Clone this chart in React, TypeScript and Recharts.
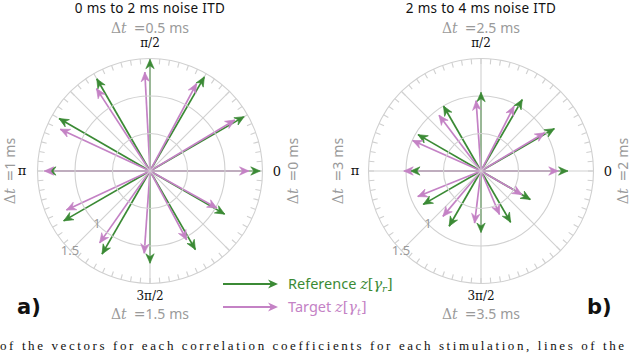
import { ComposedChart, Line, XAxis, YAxis } from 'recharts'

const GREEN = '#3b8a35'
const PINK = '#c482c5'
const GRID = '#d0d0d0'
const LABEL = '#9a9a9a'
const SERIF = "'DejaVu Serif', 'Liberation Serif', serif"
const SANS = "'Noto Sans', 'Open Sans', sans-serif"

// panel a) 0 ms to 2 ms noise ITD
const refAngleA = [0, 30, 60, 90, 120, 150, 180, 210, 240, 270, 300, 330]
const refMagA = [1.47, 1.45, 1.45, 1.49, 1.42, 1.4, 1.38, 1.33, 1.28, 1.23, 1.21, 1.15]
const tgtAngleA = [0, 31, 62, 93, 123, 155, 180, 205, 235, 266, 298, 331]
const tgtMagA = [1.32, 1.32, 1.32, 1.32, 1.31, 1.32, 1.41, 1.23, 1.17, 1.1, 1.04, 1.02]

// panel b) 2 ms to 4 ms noise ITD
const refAngleB = [0, 30, 60, 90, 120, 150, 180, 210, 240, 270, 300, 330]
const refMagB = [1.16, 1.13, 1.1, 1.05, 1.0, 0.97, 0.94, 0.89, 0.85, 0.82, 0.79, 0.76]
const tgtAngleB = [0, 31, 63, 94, 127, 156, 180, 202, 230, 263, 293, 330]
const tgtMagB = [1.03, 0.99, 0.97, 0.94, 0.93, 1.0, 1.03, 0.91, 0.79, 0.7, 0.63, 0.63]

const ringRadii = [0.5, 1, 1.5]
const spokeAngles = [0, 45, 90, 135]
const tickStep = 5
const DOMAIN = 1.6

const rad = (d: number) => (d * Math.PI) / 180

const ringPts = [{ x: 0, y: 0 }, ...ringRadii.map((r) => ({ x: r, y: 0 }))]

function gridDot(p: any) {
  const { index, cx, points } = p
  if (index === 0 || !points) return <g key={`ring-${index}`} />
  const c = points[0]
  const r = cx - c.x
  const outer = index === points.length - 1
  const ticks = outer ? Array.from({ length: 360 / tickStep }, (_, i) => i * tickStep) : []
  return (
    <g key={`ring-${index}`}>
      <circle cx={c.x} cy={c.y} r={r} fill="none" stroke={GRID} strokeWidth={1.1} />
      {outer &&
        spokeAngles.map((a) => (
          <line
            key={`s${a}`}
            x1={c.x - r * Math.cos(rad(a))}
            y1={c.y + r * Math.sin(rad(a))}
            x2={c.x + r * Math.cos(rad(a))}
            y2={c.y - r * Math.sin(rad(a))}
            stroke={GRID}
            strokeWidth={1.1}
          />
        ))}
      {ticks.map((a) => (
        <line
          key={`t${a}`}
          x1={c.x + r * Math.cos(rad(a))}
          y1={c.y - r * Math.sin(rad(a))}
          x2={c.x + (r - 5.5) * Math.cos(rad(a))}
          y2={c.y - (r - 5.5) * Math.sin(rad(a))}
          stroke={GRID}
          strokeWidth={1.1}
        />
      ))}
    </g>
  )
}

const arrowDot = (color: string) => (p: any) => {
  if (p.index !== 1) return <g key={`h${p.index}`} />
  const c = p.points ? p.points[0] : null
  const deg = c ? (Math.atan2(p.cy - c.y, p.cx - c.x) * 180) / Math.PI : -p.payload.a
  return (
    <polygon
      key="head"
      points="0,0 -9.5,-4.2 -6.5,0 -9.5,4.2"
      fill={color}
      stroke={color}
      strokeWidth={0.6}
      transform={`translate(${p.cx},${p.cy}) rotate(${deg})`}
    />
  )
}

const arrowData = (a: number, m: number) => [
  { x: 0, y: 0, a },
  { x: m * Math.cos(rad(a)), y: m * Math.sin(rad(a)), a },
]

interface PanelProps {
  left: number
  refAngle: number[]
  refMag: number[]
  tgtAngle: number[]
  tgtMag: number[]
}

function Panel({ left, refAngle, refMag, tgtAngle, tgtMag }: PanelProps) {
  return (
    <div style={{ position: 'absolute', left, top: 51 }}>
      <ComposedChart width={240} height={240} margin={{ top: 0, right: 0, bottom: 0, left: 0 }}>
        <XAxis type="number" dataKey="x" domain={[-DOMAIN, DOMAIN]} hide allowDataOverflow />
        <YAxis type="number" dataKey="y" domain={[-DOMAIN, DOMAIN]} hide allowDataOverflow />
        <Line
          data={ringPts}
          dataKey="y"
          stroke="none"
          dot={gridDot}
          activeDot={false}
          legendType="none"
          isAnimationActive={false}
        />
        {refAngle.map((a, i) => (
          <Line
            key={`r${i}`}
            data={arrowData(a, refMag[i])}
            dataKey="y"
            type="linear"
            stroke={GREEN}
            strokeWidth={1.7}
            dot={arrowDot(GREEN)}
            activeDot={false}
            legendType="none"
            isAnimationActive={false}
          />
        ))}
        {tgtAngle.map((a, i) => (
          <Line
            key={`t${i}`}
            data={arrowData(a, tgtMag[i])}
            dataKey="y"
            type="linear"
            stroke={PINK}
            strokeWidth={1.7}
            dot={arrowDot(PINK)}
            activeDot={false}
            legendType="none"
            isAnimationActive={false}
          />
        ))}
      </ComposedChart>
    </div>
  )
}

function DeltaT({ x, y, value, rotate }: { x: number; y: number; value: string; rotate?: boolean }) {
  return (
    <text
      x={x}
      y={y}
      fill={LABEL}
      fontSize={14}
      textAnchor="middle"
      transform={rotate ? `rotate(-90 ${x} ${y})` : undefined}
    >
      <tspan fontFamily={SERIF}>Δ</tspan>
      <tspan fontFamily={SERIF} fontStyle="italic">t</tspan>
      <tspan fontFamily={SERIF} dx={7}>=</tspan>
      <tspan fontFamily={SANS}>{value}</tspan>
      <tspan fontFamily={SANS} dx={4}>ms</tspan>
    </text>
  )
}

function Labels({ cx, title, top, left, right, bottom, panel, panelX, leftX, rightX, piX, zeroX }: any) {
  return (
    <g>
      <text x={cx} y={13} textAnchor="middle" fontFamily={SANS} fontSize={13.5} fill="#111" letterSpacing={0.3}>
        {title}
      </text>
      <DeltaT x={cx} y={33} value={top} />
      <text x={cx} y={47} textAnchor="middle" fontFamily={SERIF} fontSize={12} fill="#111">
        π/2
      </text>
      <text x={cx} y={300} textAnchor="middle" fontFamily={SERIF} fontSize={12} fill="#111">
        3π/2
      </text>
      <DeltaT x={cx} y={319} value={bottom} />
      <DeltaT x={leftX} y={171} value={left} rotate />
      <DeltaT x={rightX} y={171} value={right} rotate />
      <text x={piX} y={175} textAnchor="middle" fontFamily={SERIF} fontSize={13} fill="#111">
        π
      </text>
      <text x={zeroX} y={176} textAnchor="middle" fontFamily={SERIF} fontSize={13} fill="#111">
        0
      </text>
      <text x={cx - 53} y={228} textAnchor="middle" fontFamily={SANS} fontSize={13} fill={LABEL}>
        1
      </text>
      <text x={cx - 80} y={255} textAnchor="middle" fontFamily={SANS} fontSize={13} fill={LABEL}>
        1.5
      </text>
      <text x={panelX} y={314} fontFamily="'DejaVu Sans', 'Liberation Sans', sans-serif" fontWeight="bold" fontSize={21} fill="#111">
        {panel}
      </text>
    </g>
  )
}

function LegendArrow({ y, color }: { y: number; color: string }) {
  return (
    <g>
      <line x1={223} y1={y} x2={272} y2={y} stroke={color} strokeWidth={1.8} />
      <polygon points="0,0 -10,-4.5 -7,0 -10,4.5" fill={color} transform={`translate(278,${y})`} />
    </g>
  )
}

export default function App() {
  return (
    <div style={{ position: 'absolute', left: 0, top: 0, width: 640, height: 355, overflow: 'hidden', background: '#fff' }}>
      <Panel left={30} refAngle={refAngleA} refMag={refMagA} tgtAngle={tgtAngleA} tgtMag={tgtMagA} />
      <Panel left={361} refAngle={refAngleB} refMag={refMagB} tgtAngle={tgtAngleB} tgtMag={tgtMagB} />
      <svg width={640} height={355} style={{ position: 'absolute', left: 0, top: 0, pointerEvents: 'none' }}>
        <Labels
          cx={150}
          title="0 ms to 2 ms noise ITD"
          top="0.5"
          left="1"
          right="0"
          bottom="1.5"
          panel="a)"
          panelX={17}
          leftX={15}
          rightX={298}
          piX={22}
          zeroX={277}
        />
        <Labels
          cx={481}
          title="2 ms to 4 ms noise ITD"
          top="2.5"
          left="3"
          right="2"
          bottom="3.5"
          panel="b)"
          panelX={587}
          leftX={343}
          rightX={628}
          piX={355}
          zeroX={608}
        />
        <LegendArrow y={284} color={GREEN} />
        <LegendArrow y={307} color={PINK} />
        <text x={288} y={289} fontSize={14.5} fill={GREEN} fontFamily={SANS}>
          Reference{' '}
          <tspan fontFamily={SERIF} fontStyle="italic">z</tspan>
          <tspan fontFamily={SERIF}>[</tspan>
          <tspan fontFamily={SERIF} fontStyle="italic">γ</tspan>
          <tspan fontFamily={SERIF} fontStyle="italic" fontSize={10} dy={3}>r</tspan>
          <tspan fontFamily={SERIF} dy={-3}>]</tspan>
        </text>
        <text x={288} y={312} fontSize={14.5} fill={PINK} fontFamily={SANS}>
          Target{' '}
          <tspan fontFamily={SERIF} fontStyle="italic">z</tspan>
          <tspan fontFamily={SERIF}>[</tspan>
          <tspan fontFamily={SERIF} fontStyle="italic">γ</tspan>
          <tspan fontFamily={SERIF} fontStyle="italic" fontSize={10} dy={3}>t</tspan>
          <tspan fontFamily={SERIF} dy={-3}>]</tspan>
        </text>
        <text x={0} y={350} fontSize={13} fill="#111" fontFamily="'Liberation Serif', serif" letterSpacing={2.6}>
          of the vectors for each correlation coefficients for each stimulation, lines of the
        </text>
      </svg>
    </div>
  )
}
